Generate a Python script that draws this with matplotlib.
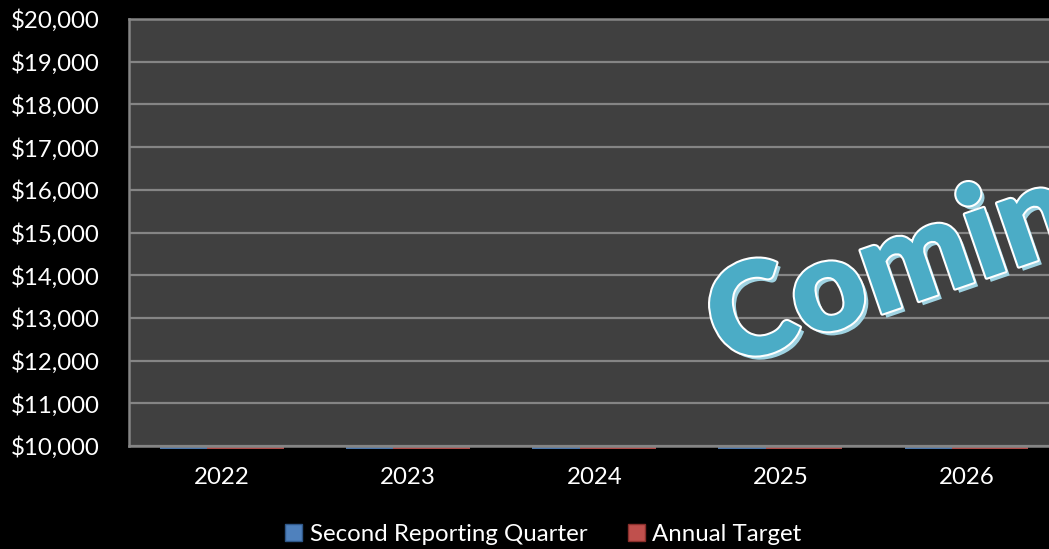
import numpy as np
import matplotlib.pyplot as plt
import matplotlib.transforms as mtransforms
import matplotlib.patheffects as pe
from matplotlib.patches import Patch

plt.rcParams['font.family'] = ['Lato', 'DejaVu Sans']

years = ["2022", "2023", "2024", "2025", "2026"]
second_quarter = [0, 0, 0, 0, 0]
annual_target = [0, 0, 0, 0, 0]
y_min, y_max, y_step = 10000, 20000, 1000

BG = "#000000"
PLOT_BG = "#404040"
GRID = "#858585"
BLUE = "#4F81BD"
RED = "#C0504D"
TEAL = "#4BACC6"

fig = plt.figure(figsize=(10.49, 5.49), dpi=100, facecolor=BG)
# plot area runs past the right edge of the figure
ax = fig.add_axes([129 / 1049, 103 / 549, 931 / 1049, 427 / 549])
ax.set_facecolor(PLOT_BG)

x = np.arange(len(years))

# bars sit below the axis minimum, so only a sliver shows under the baseline
shift = mtransforms.offset_copy(ax.transData, fig=fig, x=0, y=-1.6, units="dots")
for vals, color, left, right in [(second_quarter, BLUE, -0.335, -0.08),
                                 (annual_target, RED, -0.08, 0.33)]:
    heights = np.maximum(np.array(vals) - y_min, 0)
    ax.bar(x + left, heights, width=right - left, bottom=y_min, align="edge",
           color=color, edgecolor=color, linewidth=1.3, clip_on=False,
           transform=shift, zorder=1)

ax.set_xlim(-0.5, len(years) - 0.5)
ax.set_ylim(y_min, y_max)
ax.set_yticks(np.arange(y_min, y_max + 1, y_step))
ax.set_yticklabels([f"${v:,.0f}" for v in np.arange(y_min, y_max + 1, y_step)])
ax.set_xticks(x)
ax.set_xticklabels(years)
ax.tick_params(axis="both", length=0, colors="white", labelsize=17.3)
ax.tick_params(axis="y", pad=21)
ax.tick_params(axis="x", pad=15)

ax.grid(axis="y", color=GRID, linewidth=1.6, zorder=0)
ax.set_axisbelow(True)
for side, sp in ax.spines.items():
    sp.set_color(GRID)
    sp.set_linewidth(1.8)
    sp.set_zorder(3)

# watermark banner
ax.text(0.64, 0.183, "Coming Soon", transform=ax.transAxes, rotation=19,
        rotation_mode="anchor", ha="left", va="baseline", fontsize=93,
        fontweight="heavy", color=TEAL, zorder=4, clip_on=False,
        path_effects=[pe.SimplePatchShadow(offset=(3, -3), shadow_rgbFace="#9fd3e2", alpha=1),
                      pe.Stroke(linewidth=3, foreground="white"),
                      pe.Normal()])

handles = [Patch(facecolor=BLUE, edgecolor="#2f5788", label="Second Reporting Quarter"),
           Patch(facecolor=RED, edgecolor="#8a2f2c", label="Annual Target")]
fig.legend(handles=handles, loc="center", bbox_to_anchor=(0.518, 0.027), ncol=2,
           frameon=False, fontsize=17.3, labelcolor="white", handlelength=0.7,
           handleheight=0.7, handletextpad=0.3, columnspacing=1.7)

fig.savefig("out.png", dpi=100, facecolor=BG)
